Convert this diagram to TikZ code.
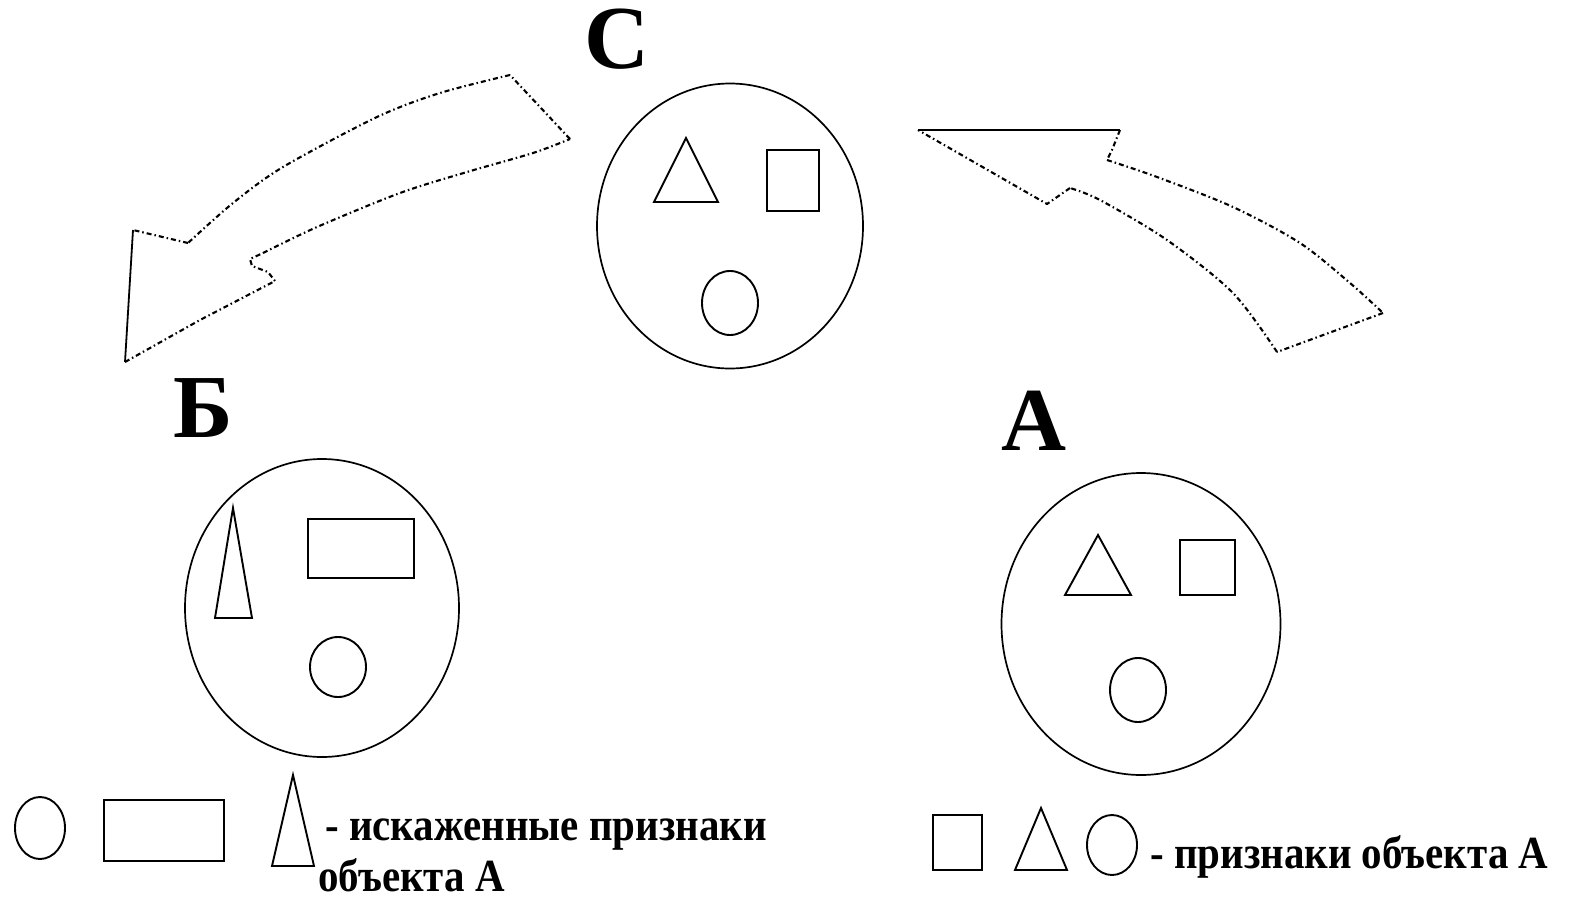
\documentclass[tikz,border=0pt]{standalone}
\usepackage{fontspec}
\setmainfont{Liberation Serif}
\newfontfamily\legendfont{Liberation Serif}[FakeStretch=0.89]
\usetikzlibrary{shapes.geometric}
\begin{document}
\begin{tikzpicture}[x=1pt,y=-1pt,
  outline/.style={line width=1.8pt,black},
  figline/.style={line width=1.9pt,black},
  dashline/.style={line width=2.1pt,black,dash pattern=on 5pt off 3pt on 1.5pt off 3pt,line join=round},
  ring/.style={ellipse,draw,line width=1.7pt,inner sep=0pt},
  biglabel/.style={font=\fontsize{90}{90}\selectfont\bfseries,inner sep=0pt,anchor=base},
  legendtext/.style={font=\legendfont\fontsize{46}{46}\selectfont\bfseries,inner sep=0pt,anchor=base west}
]
\useasboundingbox (0,0) rectangle (1570,899);

% --- group C (top) ---
\node[biglabel] (labC) at (617,69) {С};
\node[ring,minimum width=266pt,minimum height=285pt] (circC) at (730,226) {};
\draw[figline] (686,138) -- (654,202) -- (718,202) -- cycle;
\draw[figline] (767,150) rectangle (819,211);
\draw[figline] (730,303) ellipse [x radius=28,y radius=32];

% --- group B (left) ---
\node[biglabel] (labB) at (203,437) {Б};
\node[ring,minimum width=274pt,minimum height=298pt] (circB) at (322,608) {};
\draw[figline] (233,508) -- (215,618) -- (252,618) -- cycle;
\draw[figline] (308,519) rectangle (414,578);
\draw[figline] (338,667) ellipse [x radius=28,y radius=30];

% --- group A (right) ---
\node[biglabel] (labA) at (1034,450) {А};
\node[ring,minimum width=279pt,minimum height=302pt] (circA) at (1141,624) {};
\draw[figline] (1098,535) -- (1065,595) -- (1131,595) -- cycle;
\draw[figline] (1180,540) rectangle (1235,595);
\draw[figline] (1138,690) ellipse [x radius=28,y radius=32];

% --- curved arrow from C towards B ---
\draw[dashline] plot[smooth,tension=0.5] coordinates {(510,75) (440,93) (377,117) (283,167) (233,203) (188,243)};
\draw[dashline] (188,243) -- (133,230);
\draw[outline] (133,230) -- (125,362);
\draw[dashline] (125,362) -- (200,320) -- (275,281) -- (268,272) -- (252,266) -- (250,259) -- (263,253);
\draw[dashline] plot[smooth,tension=0.5] coordinates {(263,253) (317,227) (400,193) (467,172) (533,153) (570,139)};
\draw[dashline] (570,139) -- (510,75);

% --- curved arrow from A towards C ---
\draw[outline] (918,130) -- (1120,130);
\draw[dashline] (1120,130) -- (1112,150) -- (1107,160);
\draw[dashline] plot[smooth,tension=0.5] coordinates {(1107,160) (1157,177) (1233,207) (1300,243) (1350,283) (1383,313)};
\draw[dashline] (1383,313) -- (1277,352);
\draw[dashline] plot[smooth,tension=0.5] coordinates {(1277,352) (1233,293) (1167,240) (1100,200) (1070,188)};
\draw[dashline] (1070,188) -- (1047,204) -- (918,130);

% --- legend: distorted features ---
\draw[figline] (40,828) ellipse [x radius=25,y radius=31];
\draw[figline] (104,800) rectangle (224,861);
\draw[figline] (293,775) -- (272,866) -- (314,866) -- cycle;
\node[legendtext] (txtB1) at (325,840) {- искаженные признаки};
\node[legendtext,text depth=0pt] (txtB2) at (318,891) {объекта А};

% --- legend: features of object A ---
\draw[figline] (933,815) rectangle (982,870);
\draw[figline] (1041,808) -- (1015,870) -- (1067,870) -- cycle;
\draw[figline] (1112,845) ellipse [x radius=25,y radius=30];
\node[legendtext] (txtA) at (1150,868) {- признаки объекта А};
\end{tikzpicture}
\end{document}
